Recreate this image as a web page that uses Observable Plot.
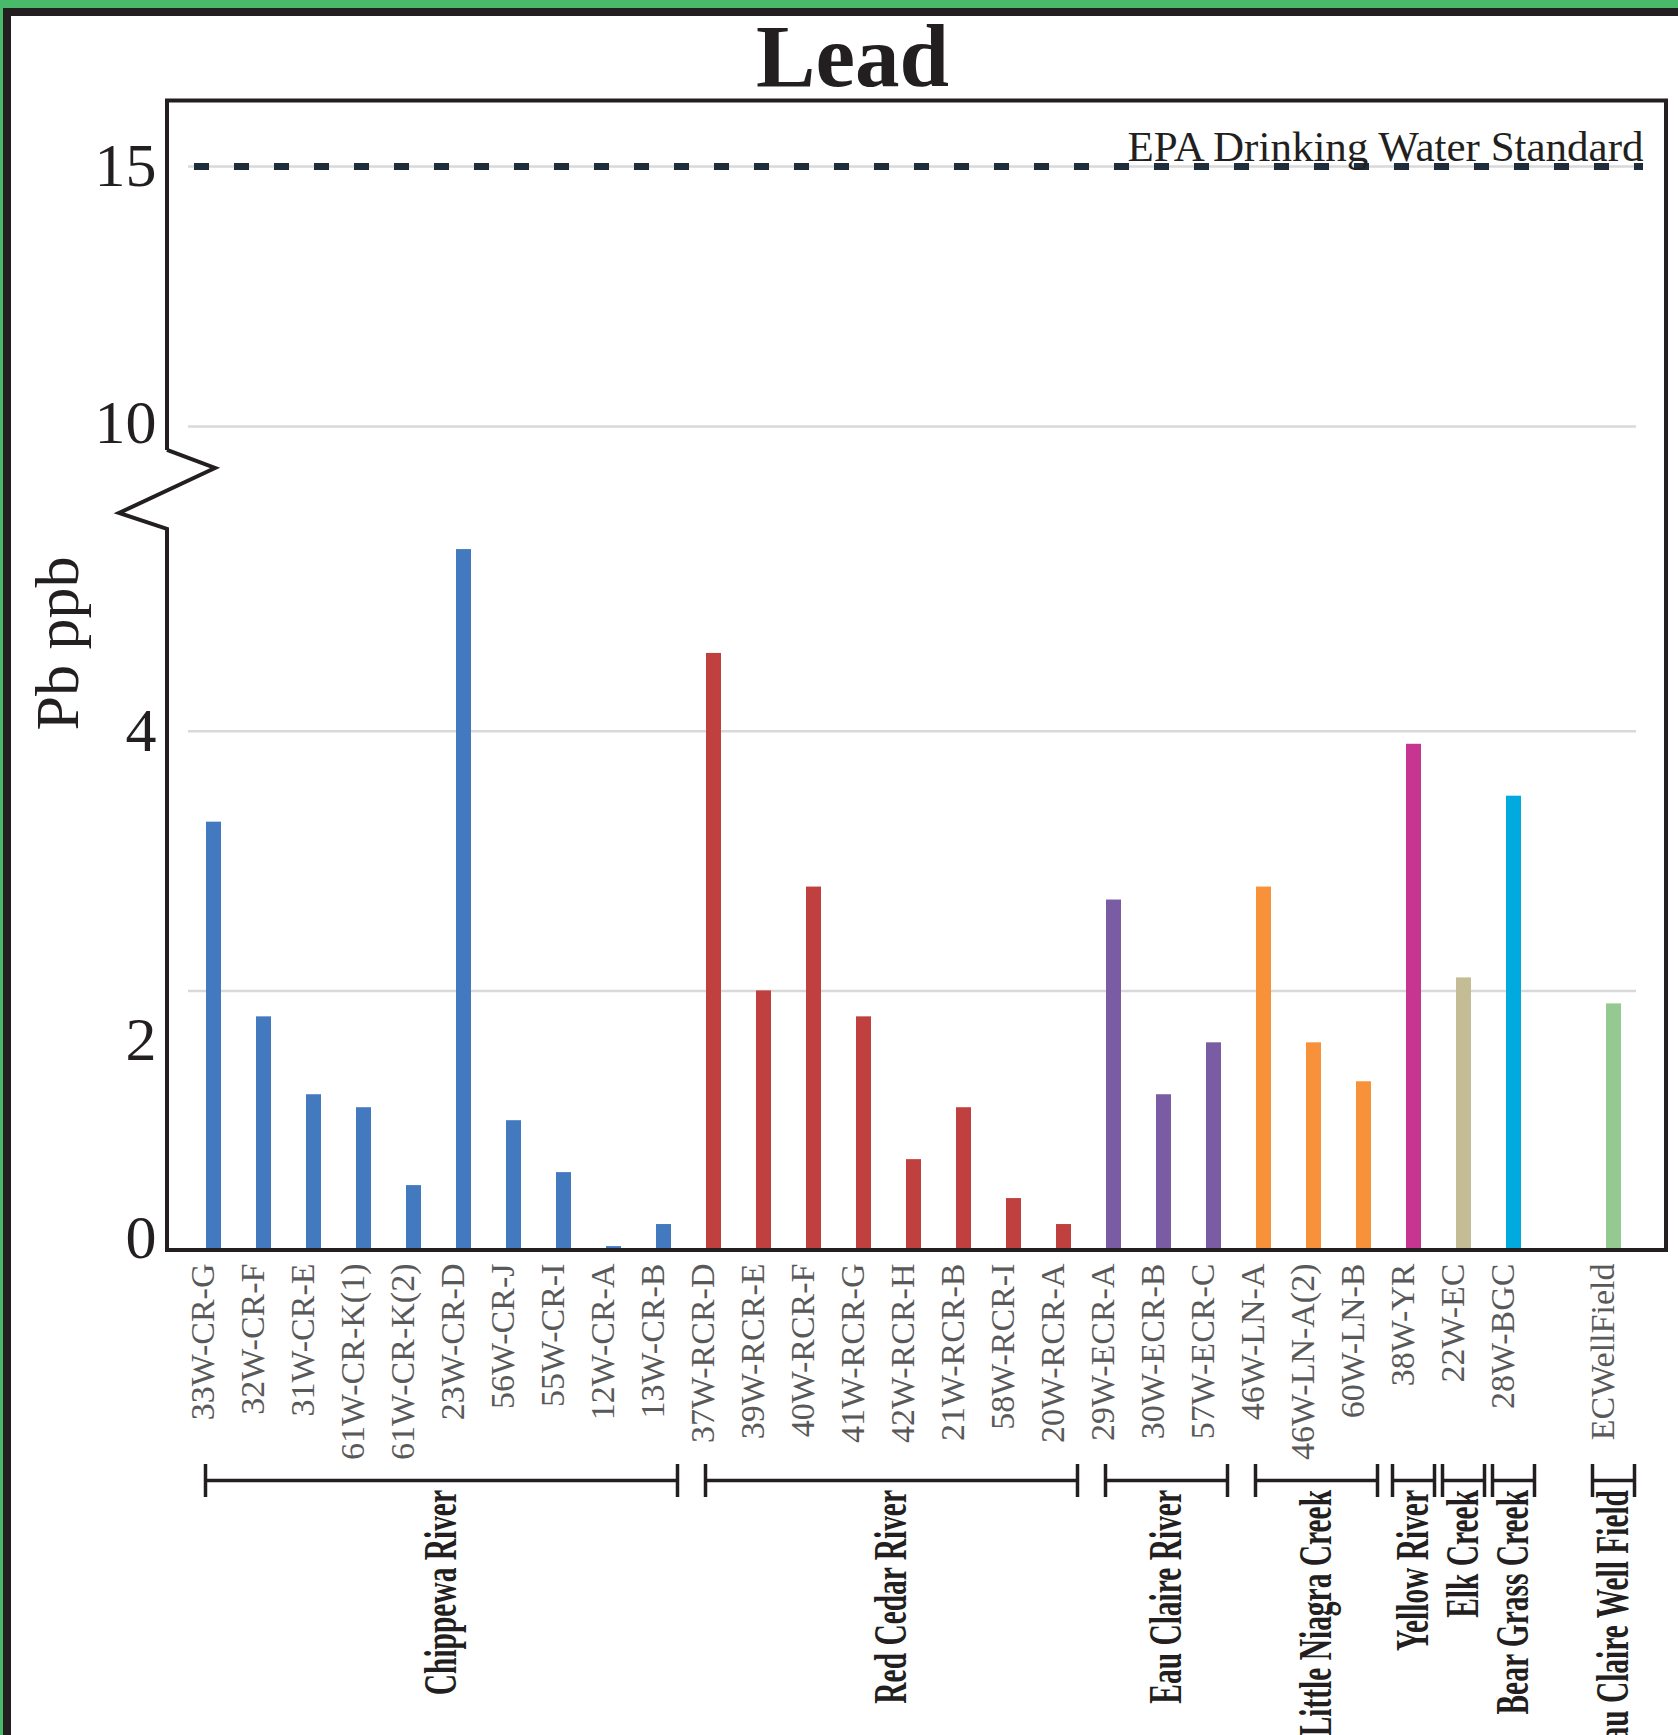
<!DOCTYPE html>
<html>
<head>
<meta charset="utf-8">
<script src="https://cdn.jsdelivr.net/npm/d3@7"></script>
<script src="https://cdn.jsdelivr.net/npm/@observablehq/plot@0.6"></script>
<style>
  html, body { margin: 0; padding: 0; background: #fff; }
  #wrap { position: relative; width: 1678px; height: 1735px; overflow: hidden; background: #fff; }
  #chart { position: absolute; left: 0; top: 0; }
  #title { position: absolute; left: 0; top: 11.5px; width: 1705px; text-align: center;
           font-family: "Liberation Serif", "Times New Roman", Times, serif; font-weight: bold;
           font-size: 89px; line-height: 89px; color: #231f20; }
  .bd { position: absolute; }
</style>
</head>
<body>
<div id="wrap">
  <div id="chart"></div>
  <div id="title"></div>
  <div class="bd" style="left:0;top:0;width:1678px;height:8px;background:#49b96a"></div>
  <div class="bd" style="left:0;top:0;width:3px;height:1735px;background:#49b96a"></div>
  <div class="bd" style="left:3px;top:8px;width:1675px;height:8px;background:#231f20"></div>
  <div class="bd" style="left:3px;top:8px;width:8px;height:1727px;background:#231f20"></div>
</div>
<script>
// ---------------- data ----------------
const title = "Lead";
const yLabel = "Pb ppb";
const epaLabel = "EPA Drinking Water Standard";
const epaLimit = 15;
const yTicks = [0, 2, 4, 10, 15];
const gridTicks = [2, 4, 10, 15];

const sites = [
  "33W-CR-G", "32W-CR-F", "31W-CR-E", "61W-CR-K(1)", "61W-CR-K(2)", "23W-CR-D", "56W-CR-J", "55W-CR-I", "12W-CR-A", "13W-CR-B",
  "37W-RCR-D", "39W-RCR-E", "40W-RCR-F", "41W-RCR-G", "42W-RCR-H", "21W-RCR-B", "58W-RCR-I", "20W-RCR-A",
  "29W-ECR-A", "30W-ECR-B", "57W-ECR-C",
  "46W-LN-A", "46W-LN-A(2)", "60W-LN-B",
  "38W-YR", "22W-EC", "28W-BGC", "ECWellField"
];
const leadPpb = [
  3.3, 1.8, 1.2, 1.1, 0.5, 5.4, 1.0, 0.6, 0.03, 0.2,
  4.6, 2.0, 2.8, 1.8, 0.7, 1.1, 0.4, 0.2,
  2.7, 1.2, 1.6,
  2.8, 1.6, 1.3,
  3.9, 2.1, 3.5, 1.9
];
const groupNames = ["Chippewa River", "Red Cedar River", "Eau Claire River", "Little Niagra Creek",
                    "Yellow River", "Elk Creek", "Bear Grass Creek", "Eau Claire Well Field"];
const groupSizes = [10, 8, 3, 3, 1, 1, 1, 1];
const groupColors = ["#4279bf", "#c0403f", "#7a5ca4", "#f7923a", "#c6358f", "#c4bc94", "#00aadf", "#95c992"];

// ---------------- build table ----------------
let k = 0;
const groups = groupNames.map((name, i) => {
  const members = sites.slice(k, k + groupSizes[i]);
  k += groupSizes[i];
  return {name, members};
});
const rows = [];
groups.forEach(g => g.members.forEach(s => rows.push({site: s, value: leadPpb[sites.indexOf(s)], group: g.name})));
const domain = [];
groups.forEach(g => { if (g.name === "Eau Claire Well Field") domain.push(" "); domain.push(...g.members); });

// broken axis: lower segment in native units, upper segment compressed
function brk(v) { return v <= 7 ? v : 6.348 + (v - 10) * 0.4006; }
const breakV = [6.164, 6.025, 5.678, 5.555];

const serif = "'Liberation Serif','Times New Roman',Times,serif";
const ink = "#231f20";
const nudge = {0: -12, 2: 49, 10: -3};

document.getElementById("title").textContent = title;

function decor(index, scales, values, dims) {
  const x = scales.x, y = scales.y;
  const bw = typeof x.bandwidth === "function" ? x.bandwidth() : (x.bandwidth || 0);
  const cx = s => x(s) + bw / 2;
  const L = dims.marginLeft + 1, R = dims.width - dims.marginRight - 1;
  const T = dims.marginTop + 1.5, B = y(0);
  const g = d3.create("svg:g");
  g.append("path")
    .attr("fill", "none").attr("stroke", ink).attr("stroke-width", 4).attr("stroke-linejoin", "miter")
    .attr("d", `M${L},${y(breakV[0])}V${T}H${R}V${B}H${L}V${y(breakV[3])}L${L - 48},${y(breakV[2])}L${L + 48},${y(breakV[1])}L${L},${y(breakV[0])}`);
  const by = B + 230.5;
  groups.forEach(gr => {
    const first = gr.members[0], last = gr.members[gr.members.length - 1];
    let x1, x2;
    if (gr.members.length === 1) { x1 = cx(first) - 21; x2 = cx(first) + 21; }
    else { x1 = cx(first) - 8; x2 = cx(last) + 14; }
    g.append("path")
      .attr("fill", "none").attr("stroke", ink).attr("stroke-width", 3.5)
      .attr("d", `M${x1},${by - 16.5}V${by + 16.5}M${x1},${by}H${x2}M${x2},${by - 16.5}V${by + 16.5}`);
    g.append("text")
      .attr("transform", `translate(${(x1 + x2) / 2},${B + 240}) rotate(-90) scale(0.64,1)`)
      .attr("text-anchor", "end").attr("dy", "0.32em")
      .attr("font-family", serif).attr("font-weight", "bold").attr("font-size", 46)
      .attr("fill", ink)
      .text(gr.name);
  });
  return g.node();
}

const chart = Plot.plot({
  width: 1678, height: 1735,
  marginLeft: 166, marginRight: 11, marginTop: 99, marginBottom: 485,
  style: {background: "transparent", fontFamily: serif, overflow: "visible"},
  x: {type: "band", domain, insetLeft: 22.2, insetRight: 28.8, paddingInner: 0.7, paddingOuter: 0.35, align: 0.5, axis: null},
  y: {type: "linear", domain: [0, 4], range: [1250, 730.8], axis: null},
  color: {domain: groupNames, range: groupColors},
  marks: [
    Plot.ruleY(gridTicks.map(brk), {stroke: "#d9d9d9", strokeWidth: 2.5, insetLeft: 22, insetRight: 31}),
    Plot.barY(rows, {x: "site", y: "value", fill: "group"}),
    Plot.ruleY([brk(epaLimit)], {stroke: "#1f2d3a", strokeWidth: 7, strokeDasharray: "15 25", insetLeft: 28, insetRight: 24}),
    Plot.text([epaLabel], {y: () => brk(epaLimit), text: d => d, frameAnchor: "right", dx: -24, dy: -6,
      textAnchor: "end", lineAnchor: "bottom", fontSize: 43, fill: ink, fontFamily: serif}),
    ...yTicks.map(t => Plot.text([t], {y: d => brk(d), text: d => `${d}`, frameAnchor: "left", dx: -10, dy: nudge[t] || 0,
      textAnchor: "end", fontSize: 62, fill: ink, fontFamily: serif})),
    Plot.text(rows, {x: "site", text: "site", frameAnchor: "bottom", dy: 13, rotate: -90, textAnchor: "end",
      fontSize: 34, fill: "#595959", fontFamily: serif}),
    Plot.text([yLabel], {text: d => d, frameAnchor: "top-left", dx: -133, dy: 544, rotate: -90, textAnchor: "middle",
      fontSize: 62, fill: ink, fontFamily: serif}),
    decor
  ]
});
document.getElementById("chart").appendChild(chart);
</script>
</body>
</html>
